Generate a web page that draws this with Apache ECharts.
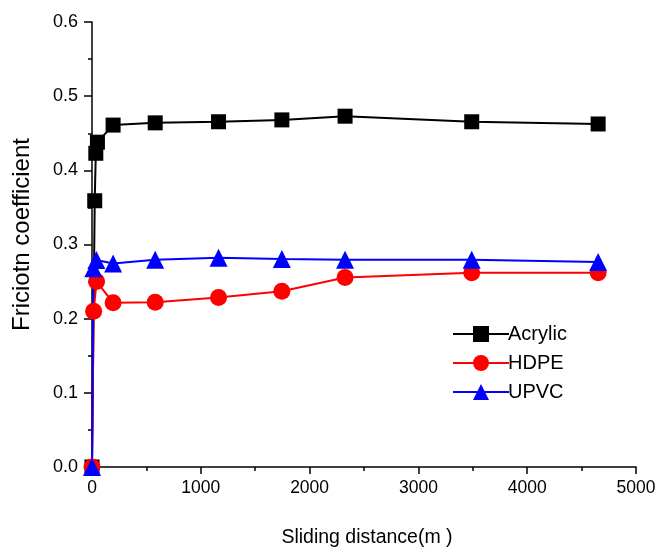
<!DOCTYPE html>
<html>
<head>
<meta charset="utf-8">
<script src="https://cdn.jsdelivr.net/npm/echarts@6/dist/echarts.min.js"></script>
<style>html,body{margin:0;padding:0;background:#fff;}#c{width:663px;height:554px;}</style>
</head>
<body>
<div id="c"></div>
<script>
const seriesNames = ["Acrylic", "HDPE", "UPVC"];
const acrylicX = [0, 25, 35, 50, 194, 581, 1163, 1745, 2326, 3490, 4652];
const acrylicY = [0, 0.359, 0.423, 0.438, 0.461, 0.464, 0.4655, 0.468, 0.473, 0.4655, 0.4625];
const hdpeX = [0, 15, 42, 194, 581, 1163, 1745, 2326, 3490, 4652];
const hdpeY = [0, 0.21, 0.25, 0.2215, 0.222, 0.2285, 0.237, 0.2555, 0.262, 0.262];
const upvcX = [0, 12, 40, 194, 581, 1163, 1745, 2326, 3490, 4652];
const upvcY = [0, 0.268, 0.279, 0.2745, 0.2795, 0.282, 0.2805, 0.2795, 0.2795, 0.2765];
const xTicks = [0, 1000, 2000, 3000, 4000, 5000];
const yTicks = [0.0, 0.1, 0.2, 0.3, 0.4, 0.5, 0.6];

const FONT = '"Liberation Sans", Arial, sans-serif';
const pair = (xs, ys) => xs.map((x, i) => [x, ys[i]]);

const chart = echarts.init(document.getElementById('c'), null, {renderer: 'canvas'});
const mk = (name, xs, ys, color, symbol, size) => ({
  name, type: 'line', data: pair(xs, ys), symbol, symbolSize: size,
  showAllSymbol: true,
  lineStyle: {color, width: 2}, itemStyle: {color, borderWidth: 0},
  emphasis: {disabled: true}, animation: false, z: 2
});
chart.setOption({
  animation: false,
  backgroundColor: '#fff',
  grid: {left: 92, right: 27, top: 22, bottom: 87, containLabel: false},
  legend: {
    data: seriesNames, orient: 'vertical', left: 447, top: 319,
    itemWidth: 56, itemHeight: 20, itemGap: 9,
    textStyle: {fontFamily: FONT, fontSize: 20, color: '#000', padding: [0, 0, 0, -6]},
    selectedMode: false
  },
  xAxis: {
    type: 'value', min: xTicks[0], max: xTicks[xTicks.length - 1], interval: 1000,
    name: 'Sliding distance(m )', nameLocation: 'middle', nameGap: 61,
    nameTextStyle: {fontFamily: FONT, fontSize: 19.5, color: '#000', padding: [0, 0, 0, 6]},
    axisLine: {show: true, onZero: false, lineStyle: {color: '#000', width: 1.5}},
    axisTick: {show: true, inside: false, length: 7, lineStyle: {color: '#000', width: 1.5}},
    minorTick: {show: true, splitNumber: 2, length: 4, lineStyle: {color: '#000', width: 1.5}},
    axisLabel: {fontFamily: FONT, fontSize: 17.5, color: '#000', margin: 12,
      formatter: v => String(v)},
    splitLine: {show: false}
  },
  yAxis: {
    type: 'value', min: yTicks[0], max: yTicks[yTicks.length - 1], interval: 0.1,
    name: 'Friciotn coefficient', nameLocation: 'middle', nameGap: 58, nameRotate: 90,
    nameTextStyle: {fontFamily: FONT, fontSize: 24, color: '#000', padding: [0, 0, 0, 20]},
    axisLine: {show: true, onZero: false, lineStyle: {color: '#000', width: 1.5}},
    axisTick: {show: true, inside: false, length: 8, lineStyle: {color: '#000', width: 1.5}},
    minorTick: {show: true, splitNumber: 2, length: 4, lineStyle: {color: '#000', width: 1.5}},
    axisLabel: {fontFamily: FONT, fontSize: 18, color: '#000', margin: 14,
      formatter: v => v.toFixed(1)},
    splitLine: {show: false}
  },
  series: [
    mk(seriesNames[0], acrylicX, acrylicY, '#000000', 'rect', 15),
    mk(seriesNames[1], hdpeX, hdpeY, '#ff0000', 'circle', 17),
    mk(seriesNames[2], upvcX, upvcY, '#0000ff', 'triangle', 18)
  ]
});
</script>
</body>
</html>
